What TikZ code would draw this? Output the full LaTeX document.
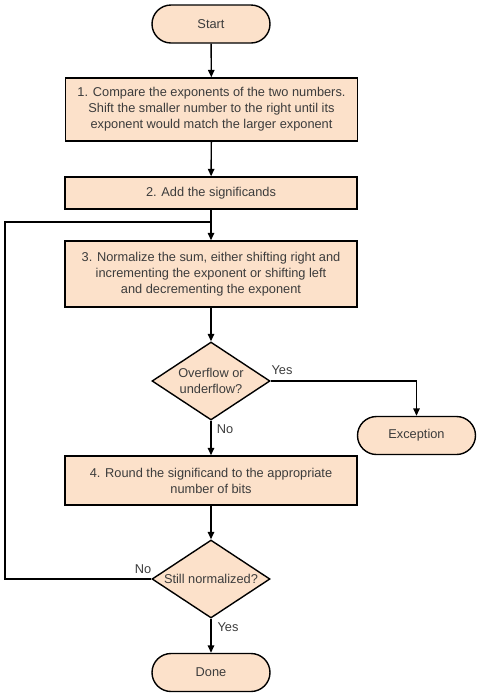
\documentclass[tikz,border=0pt]{standalone}
\usepackage{fontspec}
\setmainfont{Liberation Sans}
\usetikzlibrary{shapes.geometric,arrows.meta}
\definecolor{peach}{RGB}{252,225,202}
\definecolor{txt}{RGB}{60,60,60}
\begin{document}
\begin{tikzpicture}[x=1pt,y=-1pt,
 base/.style={draw=black, line width=1.4pt, fill=peach, text=txt, font=\fontsize{12.8}{16}\selectfont, align=center, inner sep=0pt},
 term/.style={base, rounded corners=19pt, minimum width=118pt, minimum height=38pt},
 proc/.style={base, minimum width=292pt},
 dia/.style={base, diamond, minimum width=118pt, minimum height=78pt},
 lbl/.style={text=txt, font=\fontsize{12.8}{16}\selectfont, inner sep=0pt},
 line/.style={line width=1.4pt},
 arr/.style={line, -{Triangle[length=7.5pt,width=6.5pt]}}
]
\useasboundingbox (0,0) rectangle (479,697);
\node[term] (start) at (211,24) {Start};
\node[proc, minimum height=63pt] (b1) at (211.5,109.5) {1. Compare the exponents of the two numbers.\\Shift the smaller number to the right until its\\exponent would match the larger exponent};
\node[proc, minimum height=32pt] (b2) at (211,193) {2. Add the significands};
\node[proc, minimum height=66pt] (b3) at (211,274) {3. Normalize the sum, either shifting right and\\incrementing the exponent or shifting left\\and decrementing the exponent};
\node[dia, label={[lbl, align=center]center:Overflow or\\underflow?}] (d1) at (211,381) {};
\node[term] (exc) at (416.5,435.5) {Exception};
\node[proc, minimum height=49pt] (b4) at (211,480.5) {4. Round the significand to the appropriate\\number of bits};
\node[dia, label={[lbl]center:Still normalized?}] (d2) at (211,579) {};
\node[term] (done) at (211,672.5) {Done};
\coordinate (lp) at (5,222);
\coordinate (jn) at (211,222);
\draw[arr] (start) -- (b1);
\draw[arr] (b1) -- (b2);
\draw[arr] (b2) -- (b3);
\draw[arr] (b3) -- (d1);
\draw[arr] (d1.east) -| (exc.north);
\draw[arr] (d1) -- (b4);
\draw[arr] (b4) -- (d2);
\draw[arr] (d2) -- (done);
\draw[line] (d2.west) -| (lp) -- (jn);
\node[lbl] (yes1) at (282,370) {Yes};
\node[lbl] (no1) at (225,429) {No};
\node[lbl] (no2) at (143,569) {No};
\node[lbl] (yes2) at (228,627) {Yes};
\end{tikzpicture}
\end{document}
